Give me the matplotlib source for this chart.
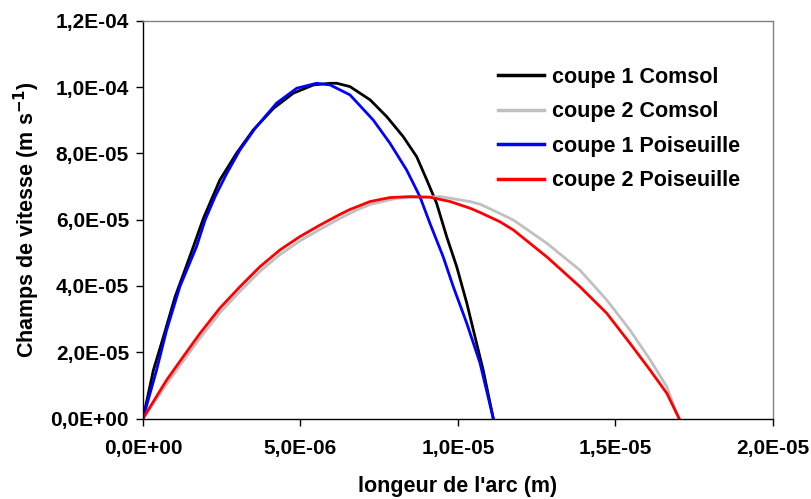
import matplotlib
matplotlib.use("Agg")
import matplotlib.pyplot as plt
import numpy as np
from matplotlib.ticker import FuncFormatter, MultipleLocator

plt.rcParams['font.family'] = ['Liberation Sans', 'DejaVu Sans']
plt.rcParams['font.weight'] = 'bold'
plt.rcParams['mathtext.default'] = 'bf'

# data (x in 1e-6 m, y in 1e-5 m/s)
c1_comsol_x = [0, 0.33, 0.65, 1.02, 1.33, 1.60, 1.92, 2.44, 2.97, 3.50, 4.14, 4.77, 5.41, 5.94, 6.15,
               6.57, 7.21, 7.74, 8.26, 8.69, 9.01, 9.32, 9.64, 9.96, 10.28, 10.59, 10.80, 11.12]
c1_comsol_y = [0, 1.46, 2.47, 3.68, 4.48, 5.19, 6.05, 7.20, 8.01, 8.71, 9.36, 9.82, 10.07, 10.12, 10.12,
               10.02, 9.62, 9.11, 8.51, 7.90, 7.20, 6.50, 5.49, 4.58, 3.48, 2.27, 1.46, 0]

c2_comsol_x = [0, 0.75, 1.28, 1.81, 2.44, 3.08, 3.71, 4.35, 4.98, 5.62, 6.25, 6.80, 7.21, 8.05, 9.43,
               10.38, 10.70, 11.33, 11.76, 12.82, 13.87, 14.72, 15.46, 16.10, 16.63, 16.94, 17.02]
c2_comsol_y = [0, 1.04, 1.74, 2.43, 3.19, 3.84, 4.44, 4.95, 5.36, 5.71, 6.04, 6.30, 6.46, 6.65, 6.70,
               6.55, 6.47, 6.19, 5.99, 5.29, 4.48, 3.58, 2.67, 1.77, 0.96, 0.16, 0]

c1_pois_x = [0, 0.43, 0.75, 1.17, 1.70, 1.97, 2.29, 2.66, 3.08, 3.56, 4.24, 4.88, 5.51, 5.94,
             6.57, 7.31, 7.84, 8.37, 8.79, 9.11, 9.53, 9.85, 10.28, 10.70, 11.12]
c1_pois_y = [0, 1.46, 2.67, 3.98, 5.19, 5.99, 6.70, 7.40, 8.11, 8.76, 9.52, 9.97, 10.12, 10.07,
             9.77, 9.01, 8.31, 7.50, 6.70, 5.89, 4.88, 3.98, 2.87, 1.67, 0]

c2_pois_x = [0, 0.75, 1.28, 1.81, 2.44, 3.08, 3.71, 4.35, 4.98, 5.62, 6.25, 6.57, 7.21, 7.84, 8.50,
             9.11, 9.75, 10.38, 10.70, 11.33, 11.76, 12.82, 13.87, 14.72, 15.46, 16.10, 16.63, 17.02]
c2_pois_y = [0, 1.16, 1.87, 2.57, 3.33, 3.98, 4.58, 5.09, 5.49, 5.84, 6.16, 6.31, 6.55, 6.67, 6.70,
             6.68, 6.55, 6.35, 6.22, 5.94, 5.69, 4.88, 3.98, 3.18, 2.27, 1.46, 0.76, 0]

labels = ['coupe 1 Comsol', 'coupe 2 Comsol', 'coupe 1 Poiseuille', 'coupe 2 Poiseuille']
colors = ['#000000', '#c0c0c0', '#0000ff', '#ff0000']

fig = plt.figure(figsize=(8.12, 4.99), dpi=100)
ax = fig.add_axes([143/812, 1-418.5/499, (773-143)/812, (418.5-21)/499])

series = [(c1_comsol_x, c1_comsol_y), (c2_comsol_x, c2_comsol_y),
          (c1_pois_x, c1_pois_y), (c2_pois_x, c2_pois_y)]
for (xs, ys), lab, col in zip(series, labels, colors):
    ax.plot(np.array(xs)*1e-6, np.array(ys)*1e-5, color=col, lw=2.0, label=lab,
            solid_joinstyle='round')

ax.set_xlim(0, 2.0e-5)
ax.set_ylim(0, 1.2e-4)
ax.xaxis.set_major_locator(MultipleLocator(5e-6))
ax.yaxis.set_major_locator(MultipleLocator(2e-5))
fmt = FuncFormatter(lambda v, p: f"{v:.1E}".replace('.', ','))
ax.xaxis.set_major_formatter(fmt)
ax.yaxis.set_major_formatter(fmt)
ax.tick_params(axis='both', direction='out', length=5, width=1, color='black')
ax.tick_params(axis='x', labelsize=15, pad=10)
ax.tick_params(axis='y', labelsize=15, pad=5)
for lab in ax.get_xticklabels() + ax.get_yticklabels():
    lab.set_fontweight('bold')

for s in ['left', 'bottom']:
    ax.spines[s].set_color('black')
    ax.spines[s].set_linewidth(1.0)
for s in ['top', 'right']:
    ax.spines[s].set_color('#808080')
    ax.spines[s].set_linewidth(1.0)

ax.set_xlabel("longeur de l'arc (m)", fontsize=15.5, fontweight='bold', labelpad=13)
ax.set_ylabel("Champs de vitesse (m s$^{-1}$)", fontsize=15.5, fontweight='bold', labelpad=6)

leg = fig.legend(*ax.get_legend_handles_labels(), loc='upper left',
                 bbox_to_anchor=(487/812, 1-56/499), frameon=False, borderpad=0,
                 handlelength=2.15, handletextpad=0.35, labelspacing=0.63,
                 prop={'weight': 'bold', 'size': 15.5})
for l in leg.get_lines():
    l.set_linewidth(2.5)

fig.savefig('out.png', dpi=100)
